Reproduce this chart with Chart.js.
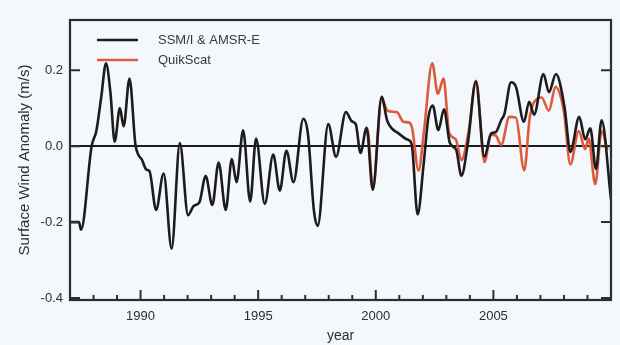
<!DOCTYPE html>
<html>
<head>
<meta charset="utf-8">
<script src="https://cdn.jsdelivr.net/npm/chart.js@4.4.1/dist/chart.umd.min.js"></script>
<style>
  html, body { margin: 0; padding: 0; background: #f4f7fb; }
  #wrap { width: 620px; height: 345px; }
</style>
</head>
<body>
<div id="wrap"><canvas id="chart" width="620" height="345"></canvas></div>
<script>
// Satellite surface wind anomaly series (m/s), decimal year vs anomaly
const ssmiYears = [
  1987.0, 1987.38, 1987.47, 1987.92, 1988.12, 1988.33, 1988.53, 1988.72, 1988.9, 1989.12,
  1989.28, 1989.53, 1989.78, 1989.9, 1990.05, 1990.25, 1990.38, 1990.66, 1990.98, 1991.32,
  1991.67, 1992.02, 1992.25, 1992.5, 1992.77, 1993.05, 1993.32, 1993.62, 1993.88, 1994.08,
  1994.36, 1994.66, 1994.91, 1995.28, 1995.64, 1995.92, 1996.2, 1996.5, 1996.92, 1997.12,
  1997.37, 1997.53, 1997.98, 1998.31, 1998.73, 1998.97, 1999.15, 1999.35, 1999.61, 1999.87,
  2000.25, 2000.48, 2000.69, 2000.98, 2001.26, 2001.42, 2001.54, 2001.78, 2002.03, 2002.24,
  2002.42, 2002.66, 2002.9, 2003.15, 2003.42, 2003.64, 2003.92, 2004.25, 2004.62, 2004.9,
  2005.1, 2005.33, 2005.47, 2005.75, 2005.96, 2006.3, 2006.52, 2006.73, 2007.13, 2007.36,
  2007.66, 2008.03, 2008.27, 2008.65, 2008.9, 2009.12, 2009.36, 2009.6, 2010.0
];
const ssmiValues = [
  -0.20, -0.20, -0.22, 0.0, 0.04, 0.13, 0.218, 0.14, 0.012, 0.10,
  0.052, 0.178, 0.005, -0.022, -0.035, -0.062, -0.066, -0.168, -0.072, -0.27,
  0.008, -0.182, -0.158, -0.148, -0.079, -0.155, -0.043, -0.168, -0.034, -0.095,
  0.042, -0.146, 0.02, -0.152, -0.022, -0.117, -0.012, -0.095, 0.072, 0.03,
  -0.17, -0.21, 0.058, -0.028, 0.09, 0.066, 0.058, -0.018, 0.048, -0.115,
  0.13, 0.068, 0.046, 0.033, 0.02, 0.015, 0.0, -0.18, -0.05, 0.077,
  0.107, 0.042, 0.097, 0.008, -0.01, -0.078, 0.01, 0.17, -0.028, 0.033,
  0.037, 0.068, 0.085, 0.168, 0.156, 0.064, 0.117, 0.083, 0.19, 0.142,
  0.19, 0.10, -0.015, 0.077, 0.018, 0.047, -0.06, 0.068, -0.14
];
const quikscatYears = [
  1999.52, 1999.64, 1999.88, 2000.25, 2000.5, 2000.9, 2001.18, 2001.42, 2001.55, 2001.82,
  2002.05, 2002.4, 2002.64, 2002.88, 2003.12, 2003.4, 2003.64, 2003.95, 2004.27, 2004.62,
  2004.9, 2005.1, 2005.33, 2005.68, 2005.96, 2006.31, 2006.55, 2006.87, 2007.05, 2007.36,
  2007.64, 2008.0, 2008.27, 2008.63, 2008.9, 2009.05, 2009.33, 2009.6, 2009.85
];
const quikscatValues = [
  0.03, 0.047, -0.112, 0.125, 0.093, 0.089, 0.064, 0.062, 0.045, -0.064,
  0.04, 0.218, 0.138, 0.178, 0.035, 0.018, -0.037, 0.04, 0.172, -0.042,
  0.03, 0.028, 0.003, 0.077, 0.075, -0.064, 0.077, 0.125, 0.128, 0.093,
  0.156, 0.09, -0.048, 0.04, -0.008, 0.02, -0.10, 0.04, -0.01
];
const seriesNames = ['SSM/I & AMSR-E', 'QuikScat'];
const seriesColors = ['#1c1c1c', '#dd5b3c'];
const yTickValues = [-0.4, -0.2, 0.0, 0.2];
const xLabelYears = [1990, 1995, 2000, 2005];
const xFirstYear = 1987;
const xLastYear = 2010;

const FONT = "'Liberation Sans', Arial, sans-serif";
const INK = '#2e2e2e';

function toPoints(xs, ys) {
  return xs.map((x, i) => ({ x: x, y: ys[i] }));
}

// page background
const backdrop = {
  id: 'backdrop',
  beforeDraw(chart) {
    const ctx = chart.ctx;
    ctx.save();
    ctx.fillStyle = '#f4f7fb';
    ctx.fillRect(0, 0, chart.width, chart.height);
    ctx.restore();
  }
};

// box frame with inward tick marks
const frame = {
  id: 'frame',
  afterDraw(chart) {
    const { ctx, chartArea: a, scales } = chart;
    ctx.save();
    ctx.strokeStyle = INK;
    ctx.lineWidth = 2.2;
    ctx.strokeRect(a.left, a.top, a.right - a.left, a.bottom - a.top);
    ctx.lineWidth = 2;
    ctx.beginPath();
    scales.y.ticks.forEach(t => {
      const py = scales.y.getPixelForValue(t.value);
      ctx.moveTo(a.left, py); ctx.lineTo(a.left + 10, py);
      ctx.moveTo(a.right, py); ctx.lineTo(a.right - 10, py);
    });
    scales.x.ticks.forEach(t => {
      const px = scales.x.getPixelForValue(t.value);
      const len = xLabelYears.includes(t.value) ? 10 : 5;
      ctx.moveTo(px, a.bottom); ctx.lineTo(px, a.bottom - len);
    });
    ctx.stroke();
    ctx.restore();
  }
};

// legend in the upper-left corner of the plot
const cornerLegend = {
  id: 'cornerLegend',
  afterDraw(chart) {
    const { ctx, chartArea: a } = chart;
    ctx.save();
    ctx.font = '13px ' + FONT;
    ctx.textBaseline = 'middle';
    chart.data.datasets.forEach((ds, i) => {
      const y = a.top + 20 + i * 20;
      const x0 = a.left + 27;
      ctx.strokeStyle = ds.borderColor;
      ctx.lineWidth = 2.6;
      ctx.beginPath();
      ctx.moveTo(x0, y); ctx.lineTo(x0 + 41, y);
      ctx.stroke();
      ctx.fillStyle = '#3a3a3a';
      ctx.fillText(ds.label, x0 + 61, y);
    });
    ctx.restore();
  }
};

new Chart(document.getElementById('chart'), {
  type: 'line',
  data: {
    datasets: [
      {
        label: seriesNames[0],
        data: toPoints(ssmiYears, ssmiValues),
        borderColor: seriesColors[0],
        borderWidth: 2.6,
        pointRadius: 0,
        cubicInterpolationMode: 'monotone',
        fill: false
      },
      {
        label: seriesNames[1],
        data: toPoints(quikscatYears, quikscatValues),
        borderColor: seriesColors[1],
        borderWidth: 2.6,
        pointRadius: 0,
        cubicInterpolationMode: 'monotone',
        fill: false
      }
    ]
  },
  options: {
    responsive: false,
    animation: false,
    layout: { padding: { top: 20, right: 3, left: 0, bottom: 0 } },
    plugins: { legend: { display: false }, tooltip: { enabled: false } },
    scales: {
      x: {
        type: 'linear',
        min: xFirstYear,
        max: xLastYear,
        afterBuildTicks(scale) {
          const ticks = [];
          for (let yr = xFirstYear; yr <= xLastYear; yr++) ticks.push({ value: yr });
          scale.ticks = ticks;
        },
        afterFit(scale) { scale.height = 45; },
        grid: { display: false, drawTicks: false },
        border: { display: false },
        ticks: {
          autoSkip: false,
          maxRotation: 0,
          padding: 9,
          color: INK,
          font: { family: FONT, size: 13 },
          callback: v => (xLabelYears.includes(v) ? String(v) : '')
        },
        title: {
          display: true,
          text: 'year',
          color: INK,
          font: { family: FONT, size: 14 },
          padding: { top: 0, bottom: 0 }
        }
      },
      y: {
        min: -0.405,
        max: 0.332,
        afterBuildTicks(scale) {
          scale.ticks = yTickValues.map(v => ({ value: v }));
        },
        afterFit(scale) { scale.width = 70; },
        grid: {
          drawTicks: false,
          lineWidth: 2,
          color: c => (c.tick && c.tick.value === 0 ? '#1c1c1c' : 'rgba(0,0,0,0)')
        },
        border: { display: false },
        ticks: {
          padding: 7,
          color: INK,
          font: { family: FONT, size: 13 },
          callback: v => v.toFixed(1)
        },
        title: {
          display: true,
          text: 'Surface Wind Anomaly (m/s)',
          color: INK,
          font: { family: FONT, size: 15 },
          padding: { top: 16, bottom: 0 }
        }
      }
    }
  },
  plugins: [backdrop, frame, cornerLegend]
});
</script>
</body>
</html>
